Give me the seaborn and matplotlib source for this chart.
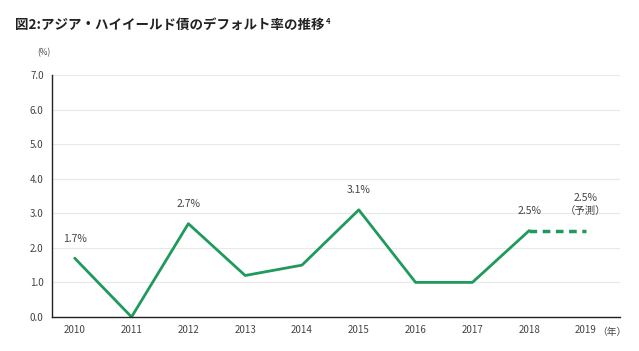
import seaborn as sns
import matplotlib.pyplot as plt
import pandas as pd

years = ["2010", "2011", "2012", "2013", "2014", "2015", "2016", "2017", "2018", "2019"]
rates = [1.7, 0.0, 2.7, 1.2, 1.5, 3.1, 1.0, 1.0, 2.5, 2.5]
labeled = {0: "1.7%", 2: "2.7%", 5: "3.1%", 8: "2.5%", 9: "2.5%\n（予測）"}

df = pd.DataFrame({"x": range(len(years)), "rate": rates})
actual = df.iloc[:9]
forecast = df.iloc[8:]

sns.set_style("white")
plt.rcParams["font.family"] = ["Noto Sans CJK JP", "DejaVu Sans"]

green = "#1f9a5c"
fig = plt.figure(figsize=(6.39, 3.51), dpi=100)
ax = fig.add_axes([0.0814, 0.097, 0.889, 0.689])

sns.lineplot(data=actual, x="x", y="rate", color=green, linewidth=2, ax=ax)
sns.lineplot(data=forecast, x="x", y="rate", color=green, linewidth=2.5,
             linestyle=(0, (2.2, 1.6)), ax=ax)

for i, txt in labeled.items():
    ax.text(i, rates[i] + 0.42, txt, ha="center", va="bottom", fontsize=7.5,
            color="#444444", linespacing=1.4)

ax.set_xlim(-0.4, 9.6)
ax.set_ylim(0, 7)
ax.set_xticks(range(len(years)))
ax.set_xticklabels(years)
ax.set_yticks([0, 1, 2, 3, 4, 5, 6, 7])
ax.set_yticklabels([f"{v:.1f}" for v in range(8)])
ax.tick_params(axis="both", labelsize=7, labelcolor="#444444", length=0, pad=6)
ax.set_xlabel("")
ax.set_ylabel("")
ax.grid(axis="y", color="#e8e8e8", linewidth=0.8)
for s in ["top", "right"]:
    ax.spines[s].set_visible(False)
for s in ["left", "bottom"]:
    ax.spines[s].set_color("#222222")
    ax.spines[s].set_linewidth(1.0)

fig.text(0.068, 0.843, "(%)", fontsize=6, color="#444444", ha="center")
fig.text(0.935, 0.047, "（年）", fontsize=7, color="#444444", ha="left")
title = fig.text(0.023, 0.93, "図2:アジア・ハイイールド債のデフォルト率の推移", fontsize=9.7,
                 fontweight="bold", color="#222222", va="center")
ax.annotate("4", xy=(1, 0.75), xycoords=title, xytext=(1, 0), textcoords="offset points",
            fontsize=5.5, fontweight="bold", color="#222222", va="center", ha="left",
            annotation_clip=False)

fig.savefig("out.png", dpi=100)
